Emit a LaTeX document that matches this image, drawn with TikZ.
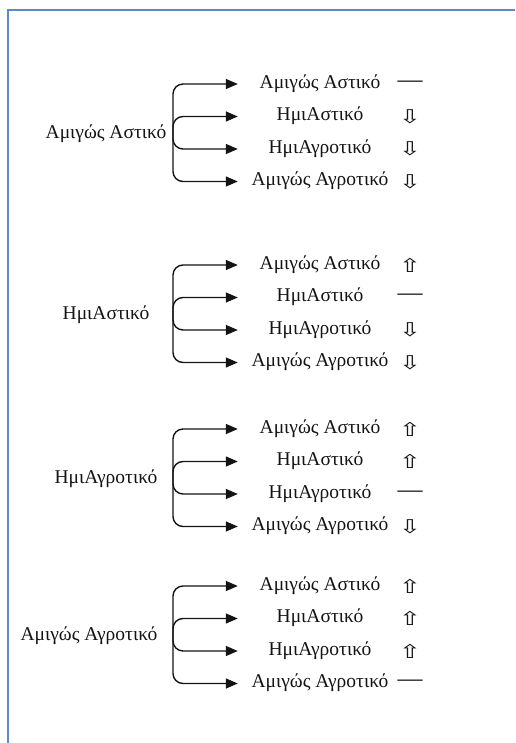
\documentclass[tikz,border=0pt]{standalone}
\usepackage{graphicx}
\usepackage{fontspec}
\setmainfont{Liberation Serif}
\newfontfamily\mgsymfont{DejaVu Sans}
\usetikzlibrary{arrows.meta,positioning}
\definecolor{mgframe}{HTML}{5A8AC8}
\definecolor{mgink}  {HTML}{141414}
\newcommand{\mgup}{\scalebox{1.4}[1]{⇧}}
\newcommand{\mgdown}{\scalebox{1.4}[1]{⇩}}
\newcommand{\mgsame}{{\rmfamily\fontsize{25}{25}\selectfont —}}
\tikzset{
  mgsrc/.style={font=\fontsize{19.5}{22}\selectfont, text=mgink, inner sep=0pt,
                text height=13pt, text depth=4.5pt},
  mgtgt/.style={mgsrc, minimum width=164pt},
  mgmark/.style={font=\mgsymfont\fontsize{19}{22}\selectfont, text=mgink, inner sep=0pt},
  mgedge/.style={-{Triangle[length=12pt,width=10pt]}, draw=mgink, line width=1.4pt,
                 rounded corners=10pt},
}
\begin{document}
\begin{tikzpicture}[x=1pt,y=-1pt]
  \useasboundingbox (0,0) rectangle (515,743);
  \draw[mgframe,line width=2.2pt] (8,743) -- (8,10) -- (515,10);
  % group / source x / first row y / source label
  \foreach \g/\sx/\ty/\src in {1/106/84/{Αμιγώς Αστικό}, 2/106/265/{ΗμιΑστικό},
                              3/106/429/{ΗμιΑγροτικό}, 4/89/586/{Αμιγώς Αγροτικό}}
  {
    \coordinate (j\g) at (173,\ty+49);
    \node[mgsrc] (s\g) at (\sx,\ty+50) {\src};
    \foreach \r/\tgt in {1/{Αμιγώς Αστικό}, 2/{ΗμιΑστικό},
                         3/{ΗμιΑγροτικό}, 4/{Αμιγώς Αγροτικό}}
    {
      \node[mgtgt] (t\g\r) at (320,{\ty+(\r-1)*32.5}) {\tgt};
      \node[mgmark] (m\g\r) at (410,{\ty+(\r-1)*32.5})
        {\ifnum\r<\g \mgup\else\ifnum\r=\g \mgsame\else \mgdown\fi\fi};
      \draw[mgedge] (j\g) |- (t\g\r.west);
    }
  }
\end{tikzpicture}
\end{document}
